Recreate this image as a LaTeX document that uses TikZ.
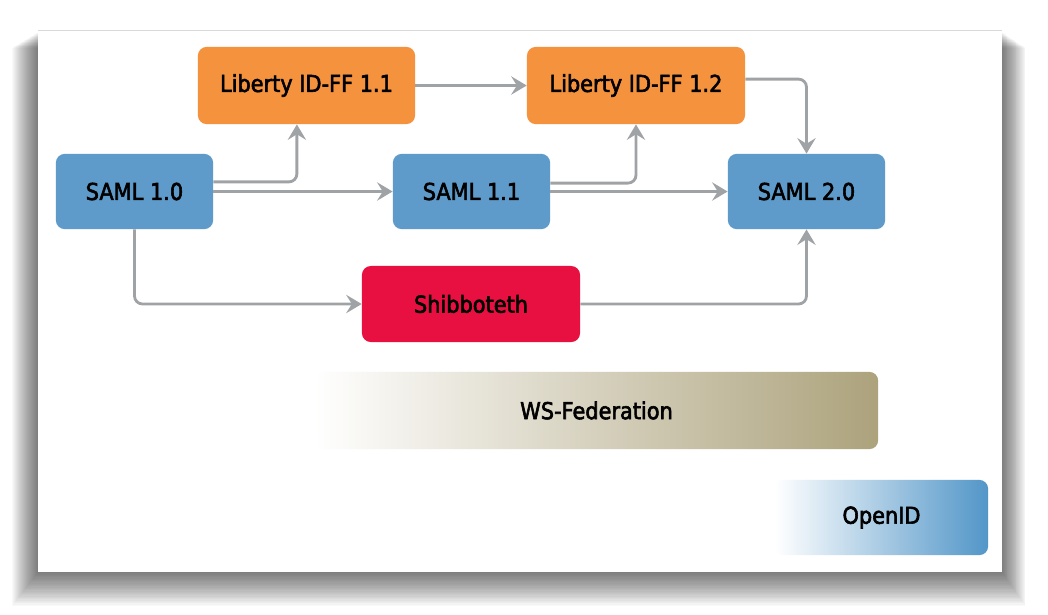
\documentclass[tikz,border=0pt]{standalone}
\usepackage{fontspec}
\newfontfamily\boxfont{DejaVu Sans}[FakeStretch=0.9,FakeBold=2.5]
\usetikzlibrary{arrows.meta}
\definecolor{libertyorange}{RGB}{245,146,62}
\definecolor{samlblue}{RGB}{94,155,202}
\definecolor{shibred}{RGB}{232,16,64}
\definecolor{wskhaki}{RGB}{172,162,124}
\definecolor{openblue}{RGB}{82,150,200}
\definecolor{linkgray}{RGB}{160,163,166}

\begin{document}
\begin{tikzpicture}[x=0.025cm,y=-0.025cm,
  spec/.style={rounded corners=0.22cm,inner sep=0pt,text=black,
    font=\boxfont\fontsize{16.5}{19}\selectfont},
  link/.style={draw=linkgray,line width=2pt,rounded corners=0.2cm,
    -{Stealth[length=11pt,width=13pt,inset=4pt]}}]
  \useasboundingbox (0,0) rectangle (1048,614);
  \fill[white] (0,0) rectangle (1048,614);

  % panel with its shadow
  \foreach \s in {1,...,26}
    \fill[black,opacity=0.025] (38-\s,32+0.6*\s) rectangle (1002+0.9*\s,572+1.3*\s);
  \fill[white] (38,30) rectangle (1002,572);
  \draw[black!15] (38,30) -- (1002,30);

  \node[spec,fill=libertyorange,minimum width=5.43cm,minimum height=1.93cm] (lib11) at (306.5,85.5) {Liberty ID-FF 1.1};
  \node[spec,fill=libertyorange,minimum width=5.45cm,minimum height=1.93cm] (lib12) at (636,85.5) {Liberty ID-FF 1.2};
  \node[spec,fill=samlblue,minimum width=3.93cm,minimum height=1.88cm] (saml10) at (134.5,191.5) {SAML 1.0};
  \node[spec,fill=samlblue,minimum width=3.93cm,minimum height=1.88cm] (saml11) at (471.5,191.5) {SAML 1.1};
  \node[spec,fill=samlblue,minimum width=3.93cm,minimum height=1.88cm] (saml20) at (806.5,191.5) {SAML 2.0};
  \node[spec,fill=shibred,minimum width=5.45cm,minimum height=1.9cm] (shib) at (471,304) {Shibboteth};
  \node[spec,left color=white,right color=wskhaki,minimum width=14.08cm,minimum height=1.93cm] (wsfed) at (596.5,410.5) {WS-Federation};
  \node[spec,left color=white,right color=openblue,minimum width=5.33cm,minimum height=1.88cm] (openid) at (881.5,517.5) {OpenID};

  \draw[link] (lib11.east) -- (lib12.west);
  \draw[link] ([yshift=0.24cm]saml10.east) -| ([xshift=-0.24cm]lib11.south);
  \draw[link] (saml10.east) -- (saml11.west);
  \draw[link] (saml10.south) |- (shib.west);
  \draw[link] ([yshift=0.21cm]saml11.east) -| (lib12.south);
  \draw[link] (saml11.east) -- (saml20.west);
  \draw[link] ([yshift=0.16cm]lib12.east) -| (saml20.north);
  \draw[link] (shib.east) -| (saml20.south);
\end{tikzpicture}
\end{document}
